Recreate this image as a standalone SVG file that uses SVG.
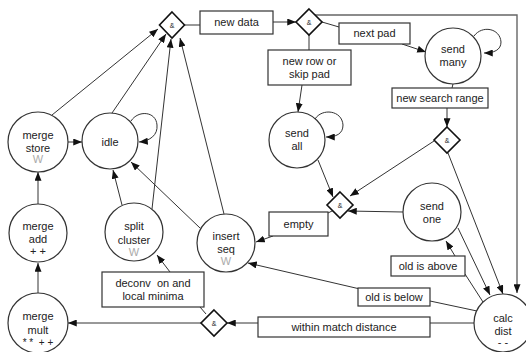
<svg xmlns="http://www.w3.org/2000/svg" width="526" height="352" viewBox="0 0 526 352">
<defs>
<style>
.bg{fill:#fff}
.st{fill:#fff;stroke:#333;stroke-width:1.2}
.bx{fill:#fff;stroke:#333;stroke-width:1.2}
.dm{fill:#fff;stroke:#111;stroke-width:1.6}
.ln{fill:none;stroke:#333;stroke-width:1}
.fr{fill:none;stroke:#666;stroke-width:1.4}
text{font-family:"Liberation Sans",Arial,sans-serif;font-size:11px;fill:#222;text-anchor:middle}
.w{fill:#aaa;font-size:11px}
.amp{font-size:7px}
.pre{white-space:pre}
</style>
<marker id="ah" viewBox="0 0 10 8" refX="10" refY="4" markerWidth="9" markerHeight="7" markerUnits="userSpaceOnUse" orient="auto"><path d="M0,0 L10,4 L0,8 z" fill="#111"/></marker>
</defs>
<rect class="bg" x="0" y="0" width="526" height="352"/>

<g id="connectors">
<line class="ln" x1="52" y1="115" x2="158" y2="29" marker-end="url(#ah)"/>
<line class="ln" x1="112" y1="113" x2="166" y2="34" marker-end="url(#ah)"/>
<line class="ln" x1="152" y1="209" x2="171" y2="39" marker-end="url(#ah)"/>
<line class="ln" x1="224" y1="214" x2="180" y2="38" marker-end="url(#ah)"/>
<line class="ln" x1="184" y1="25" x2="200" y2="25"/>
<line class="ln" x1="273" y1="22" x2="296" y2="22" marker-end="url(#ah)"/>
<path class="fr" d="M315,15 H517 V293" marker-end="url(#ah)"/>
<line class="ln" x1="322" y1="22" x2="339" y2="27"/>
<line class="ln" x1="402" y1="44" x2="426" y2="52" marker-end="url(#ah)"/>
<path class="ln" d="M474,36 C482,25 500,28 501,42 C501,50 494,53 484,53" marker-end="url(#ah)"/>
<line class="ln" x1="309" y1="35" x2="309" y2="50"/>
<line class="ln" x1="302" y1="85" x2="298" y2="112" marker-end="url(#ah)"/>
<path class="ln" d="M315,119 C322,108 342,110 343,125 C343,134 336,137 326,137" marker-end="url(#ah)"/>
<line class="ln" x1="453" y1="84" x2="452" y2="88"/>
<line class="ln" x1="447" y1="108" x2="447" y2="127" marker-end="url(#ah)"/>
<line class="ln" x1="434" y1="141" x2="350" y2="196" marker-end="url(#ah)"/>
<line class="ln" x1="318" y1="160" x2="333" y2="197" marker-end="url(#ah)"/>
<line class="ln" x1="448" y1="153" x2="503" y2="294" marker-end="url(#ah)"/>
<line class="ln" x1="403" y1="212" x2="348" y2="211" marker-end="url(#ah)"/>
<line class="ln" x1="458" y1="228" x2="490" y2="295" marker-end="url(#ah)"/>
<line class="ln" x1="483" y1="302" x2="465" y2="274"/>
<line class="ln" x1="455" y1="256" x2="446" y2="241" marker-end="url(#ah)"/>
<line class="ln" x1="477" y1="311" x2="430" y2="301"/>
<line class="ln" x1="360" y1="289" x2="248" y2="263" marker-end="url(#ah)"/>
<line class="ln" x1="474" y1="323" x2="430" y2="323"/>
<line class="ln" x1="258" y1="323" x2="227" y2="323" marker-end="url(#ah)"/>
<line class="ln" x1="201" y1="323" x2="68" y2="323" marker-end="url(#ah)"/>
<line class="ln" x1="206" y1="314" x2="200" y2="307"/>
<line class="ln" x1="170" y1="272" x2="157" y2="255" marker-end="url(#ah)"/>
<line class="ln" x1="334" y1="210" x2="328" y2="213"/>
<line class="ln" x1="273" y1="236" x2="256" y2="242" marker-end="url(#ah)"/>
<line class="ln" x1="68" y1="142" x2="82" y2="142" marker-end="url(#ah)"/>
<line class="ln" x1="122" y1="205" x2="113" y2="170" marker-end="url(#ah)"/>
<line class="ln" x1="200" y1="228" x2="131" y2="162" marker-end="url(#ah)"/>
<line class="ln" x1="38" y1="204" x2="38" y2="172" marker-end="url(#ah)"/>
<line class="ln" x1="38" y1="294" x2="38" y2="263" marker-end="url(#ah)"/>
<path class="ln" d="M131,121 C138,110 156,111 157,125 C158,135 150,141 139,142" marker-end="url(#ah)"/>
</g>

<g id="merge-store"><circle class="st" cx="38" cy="142" r="30"/><text x="38" y="139">merge</text><text x="38" y="152">store</text><text class="w" x="38" y="163">W</text></g>
<g id="idle"><circle class="st" cx="110" cy="141" r="28"/><text x="110" y="146">idle</text></g>
<g id="merge-add"><circle class="st" cx="38" cy="233" r="29"/><text x="38" y="230">merge</text><text x="38" y="243">add</text><text x="38" y="255">+ +</text></g>
<g id="split-cluster"><circle class="st" cx="134" cy="232" r="29"/><text x="134" y="230">split</text><text x="134" y="244">cluster</text><text class="w" x="134" y="256">W</text></g>
<g id="insert-seq"><circle class="st" cx="226" cy="243" r="29"/><text x="226" y="240">insert</text><text x="226" y="253">seq</text><text class="w" x="226" y="265">W</text></g>
<g id="merge-mult"><circle class="st" cx="38" cy="323" r="30"/><text x="38" y="320">merge</text><text x="38" y="334">mult</text><text class="pre" x="38" y="346" style="font-size:10px">* *  + +</text></g>
<g id="send-many"><circle class="st" cx="453" cy="56" r="28"/><text x="453" y="53">send</text><text x="453" y="66">many</text></g>
<g id="send-all"><circle class="st" cx="297" cy="140" r="28"/><text x="297" y="137">send</text><text x="297" y="150">all</text></g>
<g id="send-one"><circle class="st" cx="432" cy="212" r="29"/><text x="432" y="210">send</text><text x="432" y="223">one</text></g>
<g id="calc-dist"><circle class="st" cx="503" cy="323" r="29"/><text x="503" y="322">calc</text><text x="503" y="335">dist</text><text class="pre" x="503" y="346">- -</text></g>

<g id="and-1"><polygon class="dm" points="172,12 184.5,25 172,38 159.5,25"/><text class="amp" x="172" y="27.5">&amp;</text></g>
<g id="and-2"><polygon class="dm" points="309,9 322,22 309,35 296,22"/><text class="amp" x="309" y="24.5">&amp;</text></g>
<g id="and-3"><polygon class="dm" points="447,127 460,140 447,153 434,140"/><text class="amp" x="447" y="142.5">&amp;</text></g>
<g id="and-4"><polygon class="dm" points="340,192 353,205 340,218 327,205"/><text class="amp" x="340" y="207.5">&amp;</text></g>
<g id="and-5"><polygon class="dm" points="214,310 227,323 214,336 201,323"/><text class="amp" x="214" y="325.5">&amp;</text></g>

<g id="lbl-new-data"><rect class="bx" x="200" y="11" width="73" height="23"/><text x="236.5" y="26">new data</text></g>
<g id="lbl-next-pad"><rect class="bx" x="339" y="23" width="71" height="21"/><text x="374.5" y="37">next pad</text></g>
<g id="lbl-new-row"><rect class="bx" x="268" y="50" width="83" height="35"/><text x="309.5" y="65">new row or</text><text x="309.5" y="78">skip pad</text></g>
<g id="lbl-new-search"><rect class="bx" x="392" y="88" width="96" height="20"/><text x="440" y="102">new search range</text></g>
<g id="lbl-empty"><rect class="bx" x="269" y="212" width="59" height="24"/><text x="298.5" y="228">empty</text></g>
<g id="lbl-old-above"><rect class="bx" x="391" y="256" width="74" height="20"/><text x="428" y="270">old is above</text></g>
<g id="lbl-old-below"><rect class="bx" x="358" y="288" width="72" height="18"/><text x="394" y="301">old is below</text></g>
<g id="lbl-within"><rect class="bx" x="258" y="317" width="172" height="20"/><text x="344" y="331">within match distance</text></g>
<g id="lbl-deconv"><rect class="bx" x="102" y="272" width="102" height="35"/><text class="pre" x="153" y="287">deconv  on and</text><text x="153" y="300">local minima</text></g>
</svg>
